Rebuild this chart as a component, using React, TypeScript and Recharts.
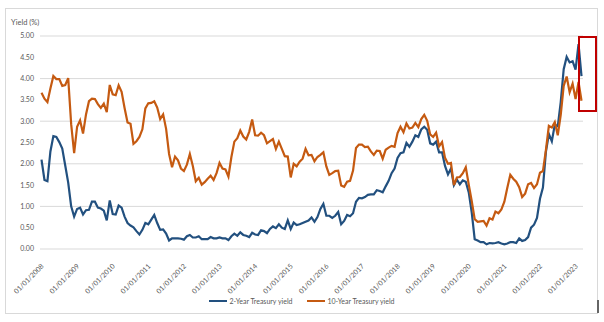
import React from 'react';
import { LineChart, Line, XAxis, YAxis, CartesianGrid, Legend } from 'recharts';

const years = [2008, 2009, 2010, 2011, 2012, 2013, 2014, 2015, 2016, 2017, 2018, 2019, 2020, 2021, 2022, 2023];

const twoYear = [
  2.10, 1.62, 1.59, 2.29, 2.65, 2.63, 2.51, 2.36, 1.96, 1.56, 1.00, 0.76,
  0.94, 0.97, 0.81, 0.91, 0.92, 1.11, 1.11, 0.97, 0.95, 0.90, 0.67, 1.14,
  0.82, 0.81, 1.02, 0.97, 0.76, 0.61, 0.55, 0.51, 0.42, 0.34, 0.45, 0.61,
  0.58, 0.69, 0.80, 0.61, 0.45, 0.46, 0.36, 0.20, 0.25, 0.25, 0.25, 0.24,
  0.22, 0.30, 0.33, 0.27, 0.27, 0.30, 0.23, 0.23, 0.23, 0.28, 0.25, 0.25,
  0.27, 0.25, 0.25, 0.21, 0.30, 0.36, 0.31, 0.39, 0.33, 0.31, 0.28, 0.38,
  0.34, 0.33, 0.44, 0.42, 0.37, 0.47, 0.53, 0.49, 0.58, 0.50, 0.47, 0.67,
  0.47, 0.62, 0.56, 0.58, 0.61, 0.64, 0.67, 0.74, 0.64, 0.75, 0.94, 1.06,
  0.78, 0.78, 0.73, 0.78, 0.87, 0.58, 0.66, 0.80, 0.77, 0.84, 1.11, 1.20,
  1.19, 1.22, 1.27, 1.28, 1.28, 1.38, 1.36, 1.33, 1.47, 1.60, 1.78, 1.89,
  2.14, 2.25, 2.27, 2.49, 2.40, 2.52, 2.67, 2.63, 2.81, 2.87, 2.80, 2.48,
  2.45, 2.52, 2.27, 2.27, 1.95, 1.75, 1.89, 1.50, 1.63, 1.52, 1.61, 1.58,
  1.33, 0.86, 0.23, 0.20, 0.16, 0.16, 0.11, 0.14, 0.13, 0.14, 0.16, 0.13,
  0.11, 0.13, 0.16, 0.16, 0.14, 0.25, 0.19, 0.21, 0.28, 0.50, 0.57, 0.73,
  1.18, 1.44, 2.28, 2.70, 2.53, 2.92, 2.88, 3.45, 4.22, 4.51, 4.38, 4.41,
  4.21, 4.81, 4.06,
];

const tenYear = [
  3.67, 3.53, 3.45, 3.77, 4.06, 3.99, 3.99, 3.83, 3.85, 4.01, 2.93, 2.25,
  2.87, 3.02, 2.71, 3.16, 3.47, 3.53, 3.52, 3.40, 3.31, 3.41, 3.21, 3.85,
  3.63, 3.61, 3.84, 3.69, 3.31, 2.97, 2.94, 2.47, 2.53, 2.63, 2.81, 3.30,
  3.42, 3.43, 3.47, 3.32, 3.05, 3.16, 2.82, 2.23, 1.92, 2.17, 2.08, 1.89,
  1.83, 1.98, 2.23, 1.95, 1.59, 1.67, 1.51, 1.57, 1.65, 1.72, 1.62, 1.78,
  2.02, 1.89, 1.87, 1.70, 2.16, 2.52, 2.60, 2.78, 2.64, 2.57, 2.75, 3.04,
  2.67, 2.66, 2.73, 2.67, 2.48, 2.53, 2.58, 2.35, 2.52, 2.35, 2.18, 2.17,
  1.68, 2.00, 1.94, 2.05, 2.12, 2.35, 2.20, 2.21, 2.06, 2.16, 2.21, 2.27,
  1.94, 1.74, 1.78, 1.83, 1.84, 1.49, 1.46, 1.58, 1.60, 1.84, 2.37, 2.45,
  2.45, 2.39, 2.40, 2.29, 2.21, 2.31, 2.30, 2.12, 2.33, 2.38, 2.42, 2.40,
  2.72, 2.87, 2.74, 2.95, 2.83, 2.85, 2.96, 2.86, 3.05, 3.15, 3.01, 2.69,
  2.63, 2.73, 2.41, 2.51, 2.14, 2.00, 2.02, 1.50, 1.68, 1.69, 1.78, 1.92,
  1.51, 1.13, 0.70, 0.64, 0.65, 0.66, 0.55, 0.72, 0.69, 0.88, 0.84, 0.93,
  1.11, 1.44, 1.74, 1.65, 1.58, 1.45, 1.22, 1.30, 1.52, 1.55, 1.43, 1.52,
  1.79, 1.83, 2.32, 2.89, 2.85, 2.98, 2.67, 3.15, 3.83, 4.05, 3.68, 3.88,
  3.52, 3.92, 3.48,
];

const yTicks = [0, 0.5, 1, 1.5, 2, 2.5, 3, 3.5, 4, 4.5, 5];

const seriesNames = ['2-Year Treasury yield', '10-Year Treasury yield'];

const dates: string[] = [];
years.forEach((y) => {
  for (let m = 1; m <= 12; m++) {
    if (dates.length < twoYear.length) dates.push(`01/${String(m).padStart(2, '0')}/${y}`);
  }
});

const data = dates.map((d, i) => ({ date: d, two: twoYear[i], ten: tenYear[i] }));

const BLUE = '#22507F';
const ORANGE = '#C55A11';
const FONT = 'Lato, "Liberation Sans", sans-serif';
const TXT = '#595959';

const XTick = (props: any) => {
  const { x, y, payload } = props;
  return (
    <g transform={`translate(${x + 1},${y + 8}) rotate(-45)`}>
      <text x={0} y={0} dy="0.35em" textAnchor="end" fontSize={7} fill={TXT} fontFamily={FONT}>
        {payload.value}
      </text>
    </g>
  );
};

const renderLegend = () => (
  <div
    style={{
      display: 'flex',
      justifyContent: 'center',
      alignItems: 'center',
      height: 20,
      fontFamily: FONT,
      fontSize: 7,
      color: TXT,
      whiteSpace: 'nowrap',
    }}
  >
    <span style={{ display: 'inline-block', width: 18, height: 2, background: BLUE, marginRight: 2 }} />
    <span>{seriesNames[0]}</span>
    <span style={{ display: 'inline-block', width: 18, height: 2, background: ORANGE, marginLeft: 15, marginRight: 2 }} />
    <span>{seriesNames[1]}</span>
  </div>
);

export default function App() {
  return (
    <div style={{ position: 'absolute', left: 0, top: 0, width: 604, height: 322, background: '#fff' }}>
      <div
        style={{
          position: 'absolute',
          left: 5,
          top: 8,
          width: 593,
          height: 306,
          border: '1px solid #d9d9d9',
          boxSizing: 'border-box',
        }}
      />
      <div style={{ position: 'absolute', left: 597, top: 300, width: 1.5, height: 13, background: '#666' }} />
      <div
        style={{
          position: 'absolute',
          left: 11,
          top: 18,
          fontFamily: FONT,
          fontSize: 7.5,
          color: TXT,
          lineHeight: '10px',
        }}
      >
        Yield (%)
      </div>
      <div style={{ position: 'absolute', left: 0, top: 0 }}>
        <LineChart width={604} height={322} data={data} margin={{ top: 36, right: 21, left: 0, bottom: 0 }}>
          <CartesianGrid vertical={false} stroke="#d9d9d9" strokeWidth={1} />
          <XAxis
            dataKey="date"
            interval={11}
            tick={<XTick />}
            tickLine={false}
            axisLine={false}
            height={53}
            padding={{ left: 1.5, right: 1.5 }}
          />
          <YAxis
            domain={[0, 5]}
            ticks={yTicks}
            width={40}
            tickLine={false}
            axisLine={false}
            tickSize={0}
            tickMargin={6}
            tickFormatter={(v: number) => v.toFixed(2)}
            tick={{ fontSize: 7, fill: TXT, fontFamily: FONT }}
          />
          <Legend
            verticalAlign="bottom"
            content={renderLegend}
            wrapperStyle={{ left: 0, width: 604, top: 291, height: 20 }}
          />
          <Line
            type="linear"
            dataKey="two"
            name={seriesNames[0]}
            stroke={BLUE}
            strokeWidth={2.2}
            dot={false}
            isAnimationActive={false}
          />
          <Line
            type="linear"
            dataKey="ten"
            name={seriesNames[1]}
            stroke={ORANGE}
            strokeWidth={2.2}
            dot={false}
            isAnimationActive={false}
          />
        </LineChart>
      </div>
      <div
        style={{
          position: 'absolute',
          left: 578,
          top: 36,
          width: 19,
          height: 76,
          border: '2px solid #C00000',
          boxSizing: 'border-box',
        }}
      />
    </div>
  );
}
